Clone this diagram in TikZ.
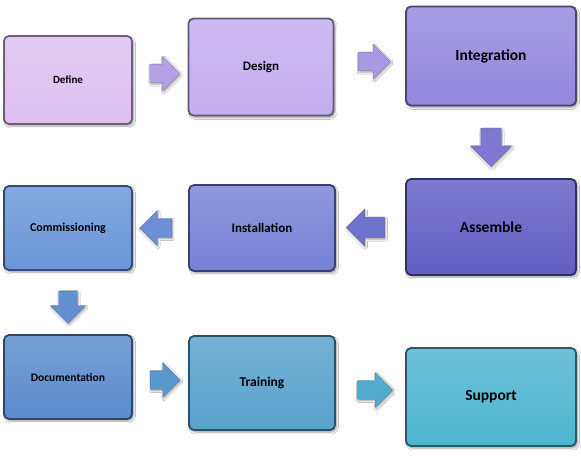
\documentclass[tikz,border=0pt]{standalone}
\usepackage{fontspec}
\setmainfont{Carlito}
\usepackage{tikz}
\usetikzlibrary{shapes.arrows, calc, shadows.blur}
\definecolor{stDefine}{HTML}{DCBFF0}
\definecolor{stDesign}{HTML}{C2AEEE}
\definecolor{stIntegr}{HTML}{9487DE}
\definecolor{stAssemble}{HTML}{635DC4}
\definecolor{stInstall}{HTML}{7582D5}
\definecolor{stCommiss}{HTML}{6A96D8}
\definecolor{stDoc}{HTML}{5A8BCC}
\definecolor{stTrain}{HTML}{58A1CD}
\definecolor{stSupport}{HTML}{4DB5D1}
\newcommand{\stfont}[1]{\fontsize{#1}{#1}\selectfont\bfseries}
\tikzset{
  stagebox/.style={rectangle, rounded corners=5pt, line width=1.8pt, align=center,
                   blur shadow={shadow blur steps=5, shadow xshift=1.5pt, shadow yshift=-2pt}},
  tint/.style={top color=#1!82, bottom color=#1, draw=#1!50!black},
  stagearrow/.style={single arrow, single arrow head extend=8pt, inner xsep=0pt, inner ysep=9pt,
                     minimum height=32pt, fill=#1, draw=#1!80!black,
                     line width=0.4pt, blur shadow={shadow blur steps=4, shadow xshift=1pt, shadow yshift=-1.5pt}},
}
\begin{document}
\begin{tikzpicture}[x=1pt, y=-1pt]
  \useasboundingbox[fill=white](0,0) rectangle (581,459);
  % row 1
  \node[stagebox, tint=stDefine, minimum width=128pt, minimum height=88pt, font=\stfont{11}](define) at (68,80){Define};
  \node[stagebox, tint=stDesign, minimum width=145pt, minimum height=97pt, font=\stfont{13}](design) at (261,67){Design};
  \node[stagebox, tint=stIntegr, minimum width=170pt, minimum height=99pt, font=\stfont{15.5}](integration) at (491,56){Integration};
  % row 2
  \node[stagebox, tint=stAssemble, minimum width=170pt, minimum height=96pt, font=\stfont{15.5}](assemble) at (491,227){Assemble};
  \node[stagebox, tint=stInstall, minimum width=146pt, minimum height=86pt, font=\stfont{13}](installation) at (262,228){Installation};
  \node[stagebox, tint=stCommiss, minimum width=128pt, minimum height=84pt, font=\stfont{12}](commissioning) at (68,228){Commissioning};
  % row 3
  \node[stagebox, tint=stDoc, minimum width=128pt, minimum height=84pt, font=\stfont{11.5}](documentation) at (68,377){Documentation};
  \node[stagebox, tint=stTrain, minimum width=146pt, minimum height=94pt, font=\stfont{13.5}](training) at (262,383){Training};
  \node[stagebox, tint=stSupport, minimum width=170pt, minimum height=98pt, font=\stfont{15.5}](support) at (491,397){Support};
  % flow arrows
  \node[stagearrow=stDefine!45!stIntegr, minimum height=30pt](a1) at ($(define.east)!0.5!(design.west)$){};
  \node[stagearrow=stDesign!45!stIntegr](a2) at ($(design.east)!0.5!(integration.west)$){};
  \node[stagearrow=stIntegr!60!stAssemble, rotate=-90, minimum height=38pt, inner ysep=10pt, single arrow head extend=10pt](a3) at ($(integration.south)!0.5!(assemble.north)$){};
  \node[stagearrow=stAssemble!40!stInstall, rotate=180, minimum height=38pt, inner ysep=10pt](a4) at ($(assemble.west)!0.5!(installation.east)$){};
  \node[stagearrow=stInstall!40!stCommiss, rotate=180](a5) at ($(installation.west)!0.5!(commissioning.east)$){};
  \node[stagearrow=stCommiss!50!stDoc, rotate=-90](a6) at ($(commissioning.south)!0.5!(documentation.north)$){};
  \node[stagearrow=stDoc!40!stTrain, minimum height=30pt](a7) at ($(documentation.east)!0.5!(training.west)$){};
  \node[stagearrow=stTrain!50!stSupport, minimum height=35pt](a8) at ($(training.east)!0.5!(support.west)$){};
\end{tikzpicture}
\end{document}
